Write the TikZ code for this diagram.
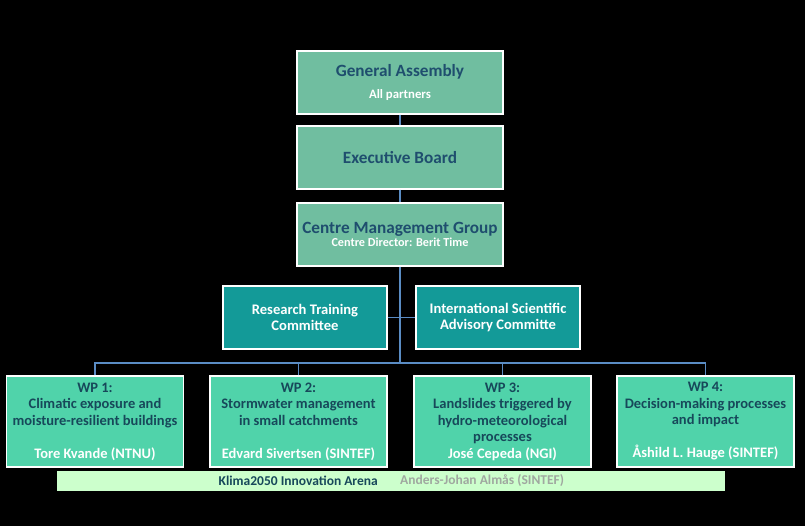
\documentclass[tikz,border=0pt]{standalone}
\usepackage{fontspec}
\setmainfont{Carlito}
\usepackage{xcolor}
\usetikzlibrary{positioning}
\definecolor{boardgreen}{HTML}{70BEA0}
\definecolor{committeeteal}{HTML}{139A98}
\definecolor{wpgreen}{HTML}{50D3AA}
\definecolor{arenagreen}{HTML}{CCFFCC}
\definecolor{titleblue}{HTML}{1F4E6E}
\definecolor{wptitle}{HTML}{17485A}
\definecolor{linkblue}{HTML}{5A8CC4}
\definecolor{namegray}{HTML}{A0A8A0}

\begin{document}
\begin{tikzpicture}[x=1pt,y=-1pt,font=\bfseries,
    boardbox/.style={draw=white,line width=1.2pt,fill=boardgreen,minimum width=206pt,
      minimum height=63pt,align=center,text=titleblue,inner sep=0pt},
    committeebox/.style={draw=white,line width=1.2pt,fill=committeeteal,minimum width=164pt,
      minimum height=63pt,align=center,text=white,font=\bfseries\fontsize{14.6}{16}\selectfont,inner sep=0pt},
    wpbox/.style={draw=white,line width=1.2pt,fill=wpgreen,minimum width=177pt,
      minimum height=91pt,align=center,text=wptitle,font=\bfseries\fontsize{14.5}{16.5}\selectfont,inner sep=0pt},
    link/.style={draw=linkblue,line width=1.6pt}]
  % background and page size
  \fill[black] (0,0) rectangle (805,526);
  \useasboundingbox (0,0) rectangle (805,526);
  % governing bodies
  \node[boardbox] (ga) at (400,82.5)
    {{\fontsize{17.2}{19}\selectfont General Assembly}\\[10pt]{\color{white}\fontsize{12.8}{14}\selectfont All partners}};
  \node[boardbox] (eb) at (400,157.5) {\fontsize{17.2}{19}\selectfont Executive Board};
  \node[boardbox] (cmg) at (400,234.5)
    {{\fontsize{17.2}{19}\selectfont Centre Management Group}\\[1pt]{\color{white}\fontsize{12.2}{14}\selectfont Centre Director: Berit Time}};
  % committees
  \node[committeebox] (rtc) at (305,317.5) {Research Training\\Committee};
  \node[committeebox] (isac) at (498,317.5) {International Scientific\\Advisory Committe};
  % work packages
  \node[wpbox] (wp1) at (95,421.5)
    {WP 1:\\Climatic exposure and\\moisture-resilient buildings\\[16.5pt]{\color{white}Tore Kvande (NTNU)}};
  \node[wpbox] (wp2) at (298.5,421.5)
    {WP 2:\\Stormwater management\\in small catchments\\[16.5pt]{\color{white}Edvard Sivertsen (SINTEF)}};
  \node[wpbox] (wp3) at (502.5,421.5)
    {WP 3:\\Landslides triggered by\\hydro-meteorological\\processes\\{\color{white}José Cepeda (NGI)}};
  \node[wpbox] (wp4) at (705.5,421.5)
    {WP 4:\\Decision-making processes\\and impact\\[16.5pt]{\color{white}Åshild L. Hauge (SINTEF)}};
  % innovation arena
  \node[fill=arenagreen,minimum width=668pt,minimum height=20pt,inner sep=0pt] (arena) at (391,481) {};
  \node[anchor=east,text=wptitle,font=\bfseries\fontsize{13.5}{15}\selectfont,inner sep=0pt] (arenatitle)
    at (378,481) {Klima2050 Innovation Arena};
  \node[anchor=west,text=namegray,font=\bfseries\fontsize{13.5}{15}\selectfont,inner sep=0pt] (arenalead)
    at (400,481) {Anders-Johan Almås (SINTEF)};
  % connectors
  \coordinate (bus) at (400,363);
  \draw[link] (ga.south) -- (eb.north);
  \draw[link] (eb.south) -- (cmg.north);
  \draw[link] (cmg.south) -- (bus);
  \draw[link] (rtc.east) -- (isac.west);
  \draw[link] (wp1.north) -- (wp1.north |- bus) -- (wp4.north |- bus) -- (wp4.north);
  \draw[link] (wp2.north) -- (wp2.north |- bus);
  \draw[link] (wp3.north) -- (wp3.north |- bus);
\end{tikzpicture}
\end{document}
